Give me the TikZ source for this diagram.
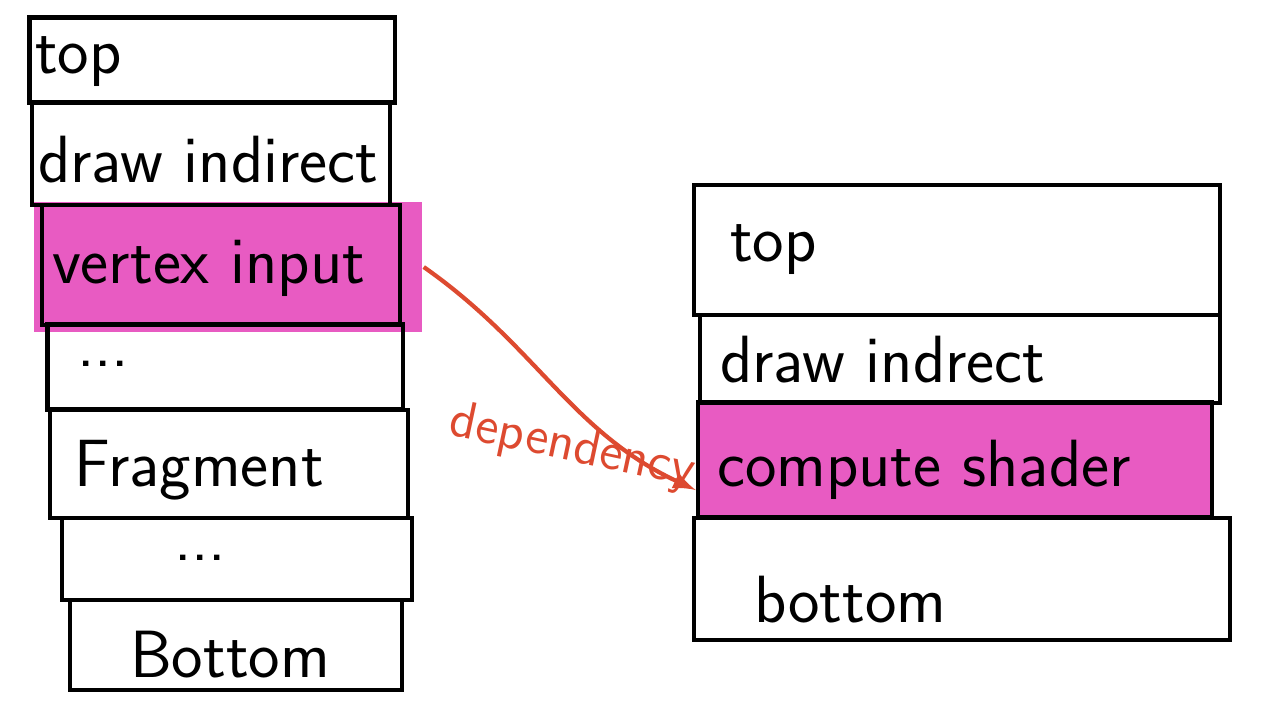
\documentclass[tikz,border=0pt]{standalone}
\usepackage{fontspec}
\definecolor{hlpink}{HTML}{E85BC2}
\definecolor{depred}{HTML}{DD4A30}

\begin{document}
\begin{tikzpicture}[x=0.01cm, y=0.01cm, line width=1.2pt,
	stackbox/.style={draw, rectangle, inner sep=0pt},
	lbl/.style={anchor=west, inner sep=0pt, font=\sffamily\fontsize{19}{22}\selectfont},
	deplbl/.style={depred, inner sep=0pt, font=\sffamily\fontsize{15}{18}\selectfont}]
	\useasboundingbox (0,0) rectangle (1268,-726);
	% left stack
	\node[fill=hlpink, minimum width=3.87cm, minimum height=1.29cm] (lhl) at (228,-267) {};
	\node[stackbox, minimum width=3.65cm, minimum height=0.85cm] (ltop) at (212,-60) {};
	\node[stackbox, minimum width=3.58cm, minimum height=1.02cm] (ldraw) at (211,-154) {};
	\node[stackbox, minimum width=3.58cm, minimum height=1.20cm] (lvert) at (221,-265) {};
	\node[stackbox, minimum width=3.55cm, minimum height=0.85cm] (ldotsa) at (225,-367) {};
	\node[stackbox, minimum width=3.58cm, minimum height=1.08cm] (lfrag) at (229,-464) {};
	\node[stackbox, minimum width=3.50cm, minimum height=0.82cm] (ldotsb) at (237,-559) {};
	\node[stackbox, minimum width=3.32cm, minimum height=0.90cm] (lbot) at (236,-645) {};
	\node[lbl] (ltopt) at (33,-62) {top};
	\node[lbl] (ldrawt) at (36,-160) {draw indirect};
	\node[lbl] (lvertt) at (50,-268) {vertex input};
	\node[lbl] (ldotsat) at (75,-364) {...};
	\node[lbl] (lfragt) at (72,-470) {Fragment};
	\node[lbl] (ldotsbt) at (172,-558) {...};
	\node[lbl] (lbott) at (128,-655) {Bottom};
	% right stack
	\node[stackbox, minimum width=5.25cm, minimum height=1.30cm] (rtop) at (957,-250) {};
	\node[stackbox, minimum width=5.20cm, minimum height=0.88cm] (rdraw) at (960,-359) {};
	\node[stackbox, fill=hlpink, minimum width=5.14cm, minimum height=1.15cm] (rcomp) at (955,-460) {};
	\node[stackbox, minimum width=5.35cm, minimum height=1.22cm] (rbot) at (962,-579) {};
	\node[lbl] (rtopt) at (728,-250) {top};
	\node[lbl] (rdrawt) at (718,-360) {draw indrect};
	\node[lbl] (rcompt) at (715,-470) {compute shader};
	\node[lbl] (rbott) at (752,-600) {bottom};
	% dependency
	\draw[-latex, depred] (lhl.east) to[out=-35, in=155] ([yshift=-0.3cm]rcomp.west);
	\node[deplbl, rotate=-12] (depl) at (572,-448) {dependency};
\end{tikzpicture}
\end{document}
